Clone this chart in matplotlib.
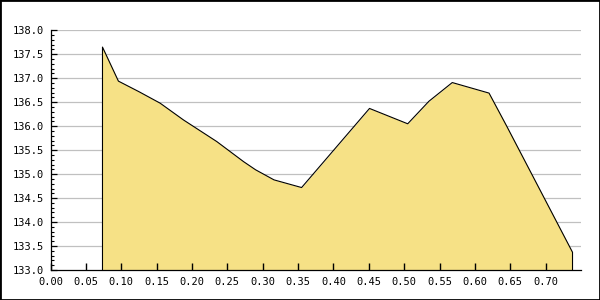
# area chart, values
import matplotlib
matplotlib.use('Agg')
from matplotlib import pyplot as plt
from matplotlib.patches import Rectangle
from matplotlib.ticker import MultipleLocator, FormatStrFormatter

x_vals = [0.0735, 0.096, 0.125, 0.155, 0.188, 0.235, 0.254, 0.273, 0.290,
          0.316, 0.355, 0.451, 0.505, 0.535, 0.568, 0.620, 0.645, 0.738]
y_vals = [137.65, 136.94, 136.72, 136.48, 136.13, 135.68, 135.47, 135.26, 135.09,
          134.88, 134.72, 136.37, 136.05, 136.52, 136.91, 136.69, 136.00, 133.37]

x_ticks = [0.00, 0.05, 0.10, 0.15, 0.20, 0.25, 0.30, 0.35, 0.40, 0.45, 0.50,
           0.55, 0.60, 0.65, 0.70]
grid_y = [133.5, 134.0, 134.5, 135.0, 135.5, 136.0, 136.5, 137.0, 137.5, 138.0]

y_min, y_max = 133.0, 138.0
x_min, x_max = 0.0, 0.75

fig = plt.figure(figsize=(6, 3), dpi=100)
ax = fig.add_axes([50.5 / 600, 1 - 270 / 300, (581 - 50.5) / 600, (270 - 30.3) / 300])

# grid lines sit behind the area, ticks stay on top
for gy in grid_y:
    ax.axhline(gy, color='#c0c0c0', linewidth=0.9, zorder=1)

# filled area and its black outline (incl. the vertical ends)
ax.fill_between(x_vals, y_vals, y_min, color='#f6e186', linewidth=0, zorder=2)
ax.plot([x_vals[0]] + x_vals + [x_vals[-1]], [y_min] + y_vals + [y_min],
        color='black', linewidth=0.8, zorder=3)

ax.set_xlim(x_min, x_max)
ax.set_ylim(y_min, y_max)

ax.set_xticks(x_ticks)
ax.xaxis.set_major_formatter(FormatStrFormatter('%.2f'))
ax.yaxis.set_major_locator(MultipleLocator(0.5))
ax.yaxis.set_minor_locator(MultipleLocator(0.1))
ax.yaxis.set_major_formatter(FormatStrFormatter('%.1f'))
ax.set_axisbelow(False)
ax.xaxis.set_zorder(5)
ax.yaxis.set_zorder(5)

for s in ['top', 'right']:
    ax.spines[s].set_visible(False)
for s in ['left', 'bottom']:
    ax.spines[s].set_linewidth(0.9)
    ax.spines[s].set_zorder(4)

ax.tick_params(axis='both', which='major', direction='in', length=4, width=0.9,
               labelsize=7.5, pad=5, color='black')
ax.tick_params(axis='x', which='major', length=5, width=1.0)
ax.tick_params(axis='y', which='minor', direction='in', length=2.2, width=0.8)
for lab in ax.get_xticklabels() + ax.get_yticklabels():
    lab.set_fontfamily('DejaVu Sans Mono')

# black frame round the whole image
fig.patches.append(Rectangle((0, 0), 1, 1, transform=fig.transFigure, fill=False,
                             edgecolor='black', linewidth=2))

fig.savefig('out.png', dpi=100)
